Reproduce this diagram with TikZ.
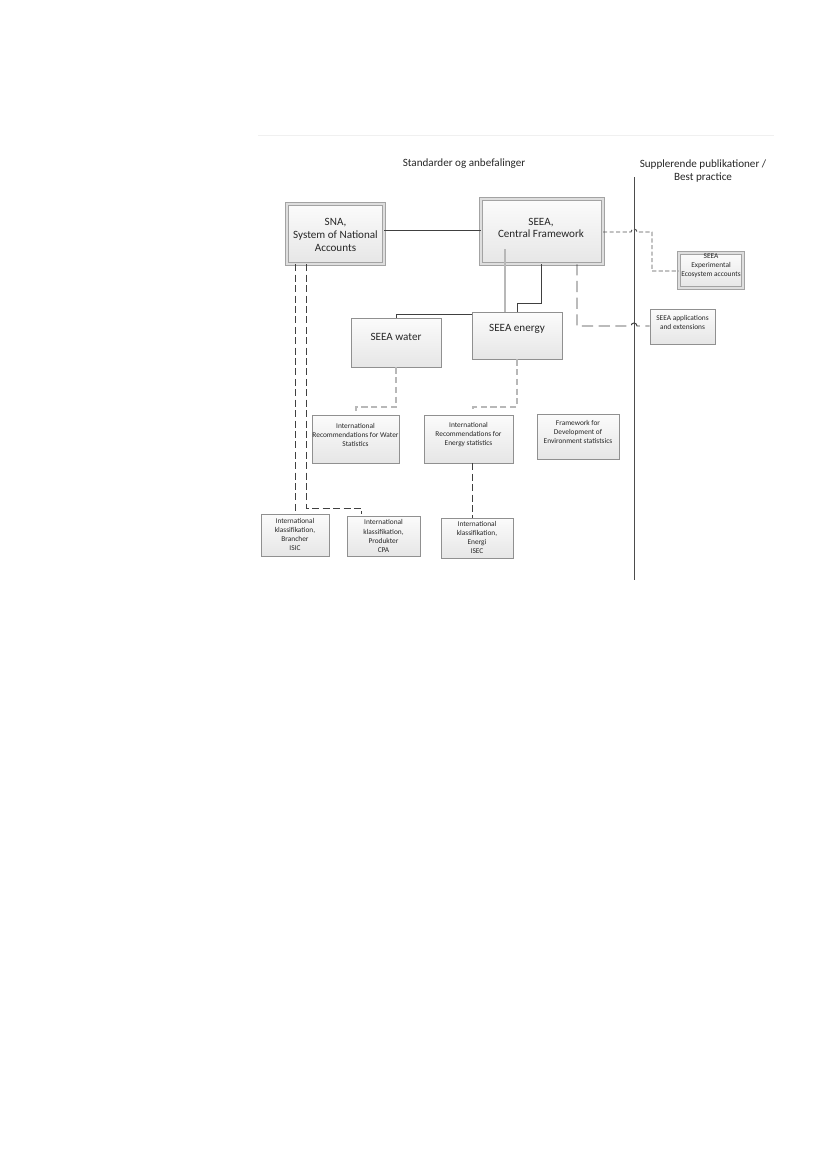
\documentclass[tikz,border=0pt]{standalone}
\usepackage{fontspec}
\setmainfont{Carlito}
\usetikzlibrary{fit}
\definecolor{lineDk}{HTML}{404040}
\definecolor{lineLt}{HTML}{B8B8B8}
\definecolor{boxBd}{HTML}{909090}
\definecolor{boxBot}{HTML}{E6E6E6}
\begin{document}
\begin{tikzpicture}[x=0.72pt,y=-0.72pt,
  box/.style={draw=boxBd, line width=0.5pt, top color=white!97!gray, bottom color=boxBot, inner sep=0pt},
  dbox/.style={box, draw=gray!72, double=gray!26, double distance=1.4pt, line width=0.45pt},
  big/.style={font=\fontsize{8}{9.2}\selectfont, align=center, inner sep=0pt, text=black!85},
  small/.style={font=\fontsize{5.3}{6.5}\selectfont, align=center, inner sep=0pt, text=black!85},
  solidc/.style={draw=lineDk, line width=0.6pt},
  lightc/.style={draw=lineLt, line width=0.9pt},
  dashc/.style={draw=lineDk, line width=0.65pt, dash pattern=on 5pt off 2.5pt},
  longdash/.style={draw=lineDk, line width=0.7pt, dash pattern=on 8pt off 4pt},
  shortdash/.style={draw=lineDk!90, line width=0.7pt, dash pattern=on 3pt off 1.7pt},
  lightdash/.style={draw=lineLt, line width=0.9pt, dash pattern=on 4.5pt off 2.5pt},
]
\useasboundingbox (0,0) rectangle (827,1169);
\fill[white] (0,0) rectangle (827,1169);

% top rule and divider
\coordinate (rl) at (258,135.5);
\coordinate (rr) at (774,135.5);
\draw[gray!12, line width=0.5pt] (rl) -- (rr);
\coordinate (vt) at (634,177);
\coordinate (vb) at (634,580);
\draw[draw=black!70, line width=0.7pt] (vt) -- (vb);

% headings
\node[big] (h1) at (464,164) {Standarder og anbefalinger};
\node[big] (h2) at (703,171) {Supplerende publikationer /\\Best practice};

% boxes
\node[dbox, fit={(287,204)(384,264)}] (sna) {};
\node[big] (snat) at (335.5,235) {SNA,\\System of National\\Accounts};
\node[dbox, fit={(481,199)(603,264)}] (cf) {};
\node[big] (cft) at (541,228) {SEEA,\\Central Framework};
\node[dbox, fit={(679,253)(743,288)}] (exp) {};
\node[small] (expt) at (711,266) {SEEA\\Experimental\\Ecosystem accounts};
\node[box, fit={(650,309)(715,344)}] (app) {};
\node[small] (appt) at (682.5,322) {SEEA applications\\and extensions};
\node[box, fit={(351,318)(441,367)}] (water) {};
\node[big] (watert) at (396,337) {SEEA water};
\node[box, fit={(472,312)(562,359)}] (energy) {};
\node[big] (energyt) at (517,329) {SEEA energy};
\node[box, fit={(312,415)(399,463)}] (recw) {};
\node[small] (recwt) at (355.5,435) {International\\Recommendations for Water\\Statistics};
\node[box, fit={(424,415)(513,463)}] (rece) {};
\node[small] (recet) at (468.5,435) {International\\Recommendations for\\Energy statistics};
\node[box, fit={(537,414)(619,459)}] (fdes) {};
\node[small] (fdest) at (578,432) {Framework for\\Development of\\Environment statistsics};
\node[box, fit={(261,514)(329,556)}] (isic) {};
\node[small] (isict) at (295,534.5) {International\\klassifikation,\\Brancher\\ISIC};
\node[box, fit={(347,516)(420,556)}] (cpa) {};
\node[small] (cpat) at (383.5,536) {International\\klassifikation,\\Produkter\\CPA};
\node[box, fit={(441,518)(513,558)}] (isec) {};
\node[small] (isect) at (477,537.5) {International\\klassifikation,\\Energi\\ISEC};

% helper coordinates
\coordinate (y230) at (0,230);
\coordinate (l1) at (505,249);
\coordinate (d1) at (541,303);
\coordinate (w1) at (396,314);
\coordinate (wb) at (356,407);
\coordinate (wt) at (356,411);
\coordinate (eb) at (473,407);
\coordinate (et) at (473,411);
\coordinate (e1) at (472,0);
\coordinate (s1) at (295,0);
\coordinate (s2) at (306,508);
\coordinate (s3) at (361,508);
\coordinate (x1) at (603,232);
\coordinate (x2) at (652,232);
\coordinate (x3) at (652,271);
\coordinate (a1) at (577,0);
\coordinate (a2) at (577,326);

% connectors
\draw[solidc] (sna.east |- y230) -- (cf.west |- y230);
\draw[lightc] (l1) -- (l1 |- energy.north);
\draw[solidc] (cf.south -| d1) -- (d1) -- (d1 -| energy.north) -- (energy.north);
\draw[solidc] (water.north) -- (water.north |- w1) -- (w1 -| energy.west);
\draw[lightdash] (water.south) |- (wb) -- (wt);
\draw[lightdash] (energy.south) |- (eb) -- (et);
\draw[dashc] (rece.south -| e1) -- (isec.north -| e1);
\draw[dashc] (sna.south -| s1) -- (isic.north -| s1);
\draw[dashc] (sna.south -| s2) -- (s2) -- (s3) -- ([yshift=1pt]cpa.north -| s3);
\draw[shortdash] (x1) -- (631,232) .. controls (631,228) and (637,228) .. (637,232) -- (x2) -- (x3) -- (exp.west |- x3);
\draw[longdash] (cf.south -| a1) -- (a2) -- (631,326) .. controls (631,322) and (637,322) .. (637,326) -- (app.west |- a2);
\end{tikzpicture}
\end{document}
